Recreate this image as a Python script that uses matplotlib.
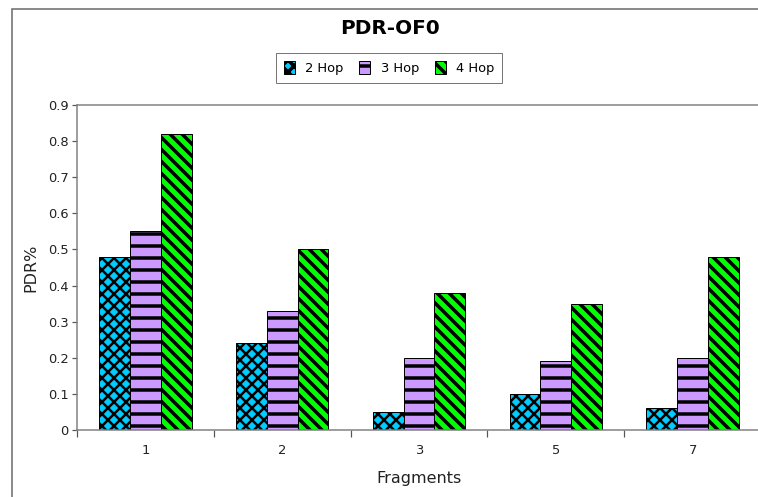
import numpy as np
import matplotlib
matplotlib.use('Agg')
import matplotlib.pyplot as plt
from matplotlib.patches import Rectangle, Patch

# Dados
fragments = ['1', '2', '3', '5', '7']
hop2 = [0.48, 0.24, 0.05, 0.10, 0.06]
hop3 = [0.55, 0.33, 0.20, 0.19, 0.20]
hop4 = [0.82, 0.50, 0.38, 0.35, 0.48]
series_names = ['2 Hop', '3 Hop', '4 Hop']
colors = ['#00CCFF', '#CC99FF', '#00FF00']
hatches = ['xx', '-', '\\\\']
hatch_lw = [2.5, 3.5, 3.5]

plt.rcParams['font.family'] = 'DejaVu Sans'

# dpi 72 para que o espacamento das hachuras fique em ~12 px
fig = plt.figure(figsize=(758 / 72, 497 / 72), dpi=72)

# moldura externa
fig.patches.append(Rectangle((12 / 758, -0.1), 1.2, 1.1 - 9 / 497, transform=fig.transFigure,
                             fill=False, edgecolor='#666666', linewidth=1.5))
fig.text(292 / 758, 1.0 + 6 / 497, '(a)', ha='center', va='center', fontsize=14, color='#222222')

ax = fig.add_axes([77 / 758, 1 - 430 / 497, 684 / 758, 325 / 497])

x = np.arange(len(fragments))
w = 0.225
handles = []
for i, vals in enumerate([hop2, hop3, hop4]):
    plt.rcParams['hatch.linewidth'] = hatch_lw[i]
    ax.bar(x + (i - 1) * w, vals, w, color=colors[i], hatch=hatches[i],
           edgecolor='black', linewidth=1.0)
    handles.append(Patch(facecolor=colors[i], hatch=hatches[i], edgecolor='black', linewidth=1.0))

ax.set_xlim(-0.5, len(fragments) - 0.5)
ax.set_ylim(0, 0.9)
ax.set_yticks(np.arange(0, 0.91, 0.1))
ax.set_yticklabels(['0'] + ['%.1f' % v for v in np.arange(0.1, 0.91, 0.1)])

# ticks nas fronteiras, rotulos no centro
ax.set_xticks(np.arange(-0.5, len(fragments), 1.0))
ax.set_xticklabels([])
ax.set_xticks(x, minor=True)
ax.set_xticklabels(fragments, minor=True)
ax.tick_params(axis='x', which='major', length=7, width=1.2, color='#555555', direction='out')
ax.tick_params(axis='x', which='minor', length=0, pad=14, labelsize=13, labelcolor='#222222')
ax.tick_params(axis='y', length=5, width=1.2, color='#555555', labelsize=13, labelcolor='#222222')

for s in ax.spines.values():
    s.set_color('#808080')
    s.set_linewidth(1.5)

ax.set_xlabel('Fragments', fontsize=16, color='#222222', labelpad=14)
ax.set_ylabel('PDR%', fontsize=16, color='#222222', labelpad=9)

fig.text(390 / 758, 1 - 29 / 497, 'PDR-OF0', ha='center', va='center',
         fontsize=20, fontweight='bold', color='black')

fig.legend(handles, series_names, loc='center', bbox_to_anchor=(389 / 758, 1 - 68 / 497),
           ncol=3, fontsize=13, frameon=True, fancybox=False, edgecolor='#555555',
           handlelength=0.85, handleheight=1.1, handletextpad=0.8, columnspacing=1.2,
           borderpad=0.6, borderaxespad=0)

fig.savefig('out.png', dpi=72)
